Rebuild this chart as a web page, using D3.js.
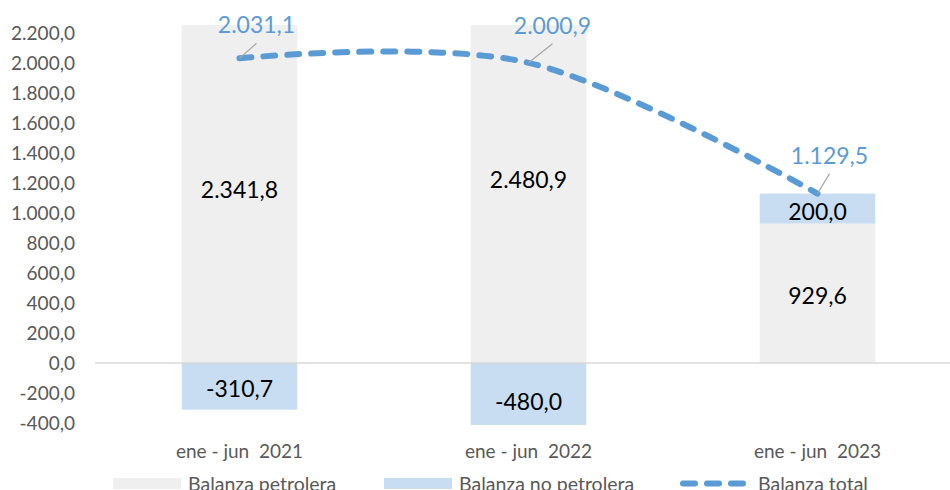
<!DOCTYPE html>
<html>
<head>
<meta charset="utf-8">
<script src="https://cdn.jsdelivr.net/npm/d3@7"></script>
<style>
  body { margin: 0; background: #fff; }
  svg { display: block; font-family: Lato, "Open Sans", sans-serif; }
</style>
</head>
<body>
<div class="chart"></div>
<script>
var categories = ["ene - jun  2021", "ene - jun  2022", "ene - jun  2023"];
var petrolera = [2341.8, 2480.9, 929.6];
var noPetrolera = [-310.7, -480.0, 200.0];
var total = [2031.1, 2000.9, 1129.5];
var yTicks = [-400, -200, 0, 200, 400, 600, 800, 1000, 1200, 1400, 1600, 1800, 2000, 2200];
var seriesNames = ["Balanza petrolera", "Balanza no petrolera", "Balanza total"];

var width = 950,
    height = 490,
    colors = ["#efefef", "#c8ddf1", "#5b9bd5"];

var locale = d3.formatLocale({decimal: ",", thousands: ".", grouping: [3], currency: ["", ""], minus: "-"});
var fmt = locale.format(",.1f");

var x = d3.scaleBand()
    .domain(categories)
    .range([95, 962])
    .paddingInner(0.6)
    .paddingOuter(0.3);

var y = d3.scaleLinear()
    .domain([-413, 2253])
    .range([425, 25]);

var svg = d3.select(".chart")
    .append("svg")
    .attr("width", width)
    .attr("height", height);

svg.append("clipPath")
    .attr("id", "plot")
    .append("rect")
    .attr("x", 95)
    .attr("y", 25)
    .attr("width", 867)
    .attr("height", 400);

// y axis labels only
var yAxis = d3.axisLeft(y)
    .tickValues(yTicks)
    .tickFormat(fmt)
    .tickSize(0)
    .tickPadding(0);

svg.append("g")
    .attr("transform", "translate(75,0)")
    .call(yAxis)
    .call(function(g) { g.select(".domain").remove(); })
    .selectAll("text")
    .attr("fill", "#595959")
    .style("font-size", "19px")
    .style("font-family", "Lato, sans-serif");

// stacked bars
var rows = categories.map(function(c, i) {
  return {cat: c, petrolera: petrolera[i], noPetrolera: noPetrolera[i]};
});

var stacked = d3.stack()
    .keys(["petrolera", "noPetrolera"])
    .offset(d3.stackOffsetDiverging)(rows);

var bars = svg.append("g").attr("clip-path", "url(#plot)");

bars.selectAll("g")
    .data(stacked)
    .enter()
    .append("g")
    .attr("fill", function(d, i) { return colors[i]; })
    .selectAll("rect")
    .data(function(d) { return d; })
    .enter()
    .append("rect")
    .attr("x", function(d) { return x(d.data.cat); })
    .attr("width", x.bandwidth())
    .attr("y", function(d) { return y(Math.max(d[0], d[1])); })
    .attr("height", function(d) { return Math.abs(y(d[0]) - y(d[1])); });

// zero line
svg.append("line")
    .attr("x1", 95)
    .attr("x2", width)
    .attr("y1", y(0))
    .attr("y2", y(0))
    .attr("stroke", "#d9d9d9")
    .attr("stroke-width", 1.5);

// bar labels
stacked.forEach(function(s) {
  svg.append("g")
      .selectAll("text")
      .data(s)
      .enter()
      .append("text")
      .attr("x", function(d) { return x(d.data.cat) + x.bandwidth() / 2; })
      .attr("y", function(d) { return y((d[0] + d[1]) / 2) + 2; })
      .attr("text-anchor", "middle")
      .attr("dominant-baseline", "central")
      .attr("fill", "#000")
      .style("font-size", "23px")
      .text(function(d) { return fmt(d.data[s.key]); });
});

// total line
var line = d3.line()
    .x(function(d, i) { return x(categories[i]) + x.bandwidth() / 2; })
    .y(function(d) { return y(d); })
    .curve(d3.curveCardinal.tension(0));

svg.append("path")
    .datum(total)
    .attr("d", line)
    .attr("fill", "none")
    .attr("stroke", colors[2])
    .attr("stroke-width", 6)
    .attr("stroke-linecap", "round")
    .attr("stroke-dasharray", "12,12");

// total labels with leader lines
var labelOffsets = [[17, -34], [24, -38], [12, -39]];

var tl = svg.append("g")
    .selectAll("g")
    .data(total)
    .enter()
    .append("g");

tl.append("line")
    .attr("x1", function(d, i) { return x(categories[i]) + x.bandwidth() / 2; })
    .attr("y1", function(d) { return y(d); })
    .attr("x2", function(d, i) { return x(categories[i]) + x.bandwidth() / 2 + labelOffsets[i][0]; })
    .attr("y2", function(d, i) { return y(d) + labelOffsets[i][1] + 19; })
    .attr("stroke", "#a6a6a6")
    .attr("stroke-width", 1.2);

tl.append("text")
    .attr("x", function(d, i) { return x(categories[i]) + x.bandwidth() / 2 + labelOffsets[i][0]; })
    .attr("y", function(d, i) { return y(d) + labelOffsets[i][1]; })
    .attr("text-anchor", "middle")
    .attr("dominant-baseline", "central")
    .attr("fill", colors[2])
    .style("font-size", "23px")
    .text(function(d) { return fmt(d); });

// category labels
svg.append("g")
    .selectAll("text")
    .data(categories)
    .enter()
    .append("text")
    .attr("x", function(d) { return x(d) + x.bandwidth() / 2; })
    .attr("y", 458)
    .attr("text-anchor", "middle")
    .attr("fill", "#595959")
    .style("font-size", "19px")
    .style("white-space", "pre")
    .text(function(d) { return d; });

// legend
var legendX = [113, 384, 680];
var legend = svg.append("g")
    .selectAll("g")
    .data(seriesNames)
    .enter()
    .append("g")
    .attr("transform", function(d, i) { return "translate(" + legendX[i] + ",0)"; });

legend.filter(function(d, i) { return i < 2; })
    .append("rect")
    .attr("x", 0)
    .attr("y", 478)
    .attr("width", 68)
    .attr("height", 11)
    .attr("fill", function(d, i) { return colors[i]; });

legend.filter(function(d, i) { return i == 2; })
    .append("line")
    .attr("x1", 3)
    .attr("x2", 63)
    .attr("y1", 483.5)
    .attr("y2", 483.5)
    .attr("stroke", colors[2])
    .attr("stroke-width", 6)
    .attr("stroke-linecap", "round")
    .attr("stroke-dasharray", "12,12");

legend.append("text")
    .attr("x", function(d, i) { return i == 2 ? 78 : 75; })
    .attr("y", 491)
    .attr("fill", "#595959")
    .style("font-size", "19.5px")
    .text(function(d) { return d; });
</script>
</body>
</html>
